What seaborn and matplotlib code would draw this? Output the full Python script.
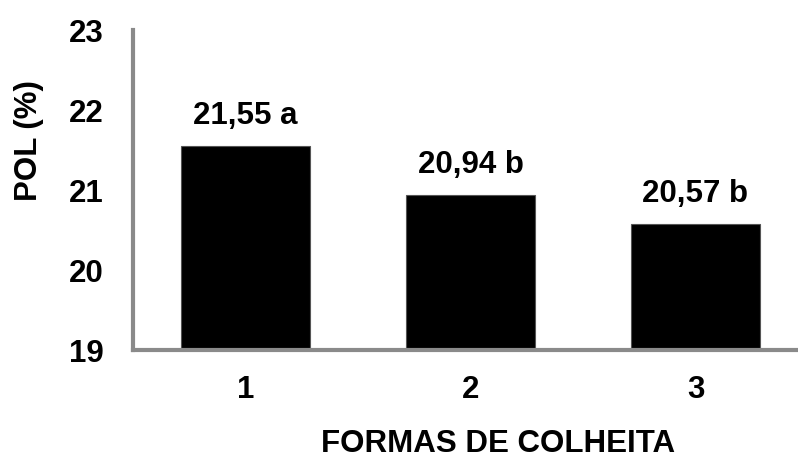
import matplotlib
matplotlib.use("Agg")
import matplotlib.pyplot as plt
import seaborn as sns
import pandas as pd

# POL means per harvest method, with Tukey letters
formas = ["1", "2", "3"]
pol = [21.55, 20.94, 20.57]
letras = ["a", "b", "b"]
yticks = [19, 20, 21, 22, 23]

sns.set_theme(style="white")
plt.rcParams["font.family"] = ["Liberation Sans", "DejaVu Sans"]
plt.rcParams["font.weight"] = "bold"
plt.rcParams["text.color"] = "black"
plt.rcParams["xtick.color"] = "black"
plt.rcParams["ytick.color"] = "black"
plt.rcParams["axes.labelcolor"] = "black"

FS = 22.5

df = pd.DataFrame({"forma": formas, "pol": pol})

fig = plt.figure(figsize=(7.98, 4.55), dpi=100)
W, H = 798, 455
ax = fig.add_axes([133 / W, 105 / H, 675 / W, 320 / H])

sns.barplot(data=df, x="forma", y="pol", color="black", width=0.573,
            edgecolor="#555555", linewidth=0.8, ax=ax, saturation=1)

ax.set_ylim(19, 23)
ax.set_xlim(-0.5, 2.5)
ax.set_yticks(yticks)
ax.set_yticklabels([str(t) for t in yticks])

for i, (v, l) in enumerate(zip(pol, letras)):
    ax.annotate(f"{v:.2f}".replace(".", ",") + f" {l}", (i, v),
                xytext=(0, 11), textcoords="offset points",
                ha="center", va="bottom", fontsize=FS, fontweight="bold",
                color="black")

ax.tick_params(axis="both", length=0, labelsize=FS, colors="black")
ax.tick_params(axis="y", pad=21)
ax.tick_params(axis="x", pad=18)
for lab in ax.get_xticklabels() + ax.get_yticklabels():
    lab.set_fontweight("bold")

ax.set_xlabel("FORMAS DE COLHEITA", fontsize=FS, fontweight="bold",
              labelpad=17, color="black")
ax.xaxis.label.set_x(0.541)
ax.set_ylabel("POL (%)", fontsize=FS, fontweight="bold", color="black")
ax.yaxis.set_label_coords(-0.132, 0.656)

for s in ["top", "right"]:
    ax.spines[s].set_visible(False)
for s in ["left", "bottom"]:
    ax.spines[s].set_color("#8a8a8a")
    ax.spines[s].set_linewidth(3)

fig.savefig("out.png", dpi=100)
